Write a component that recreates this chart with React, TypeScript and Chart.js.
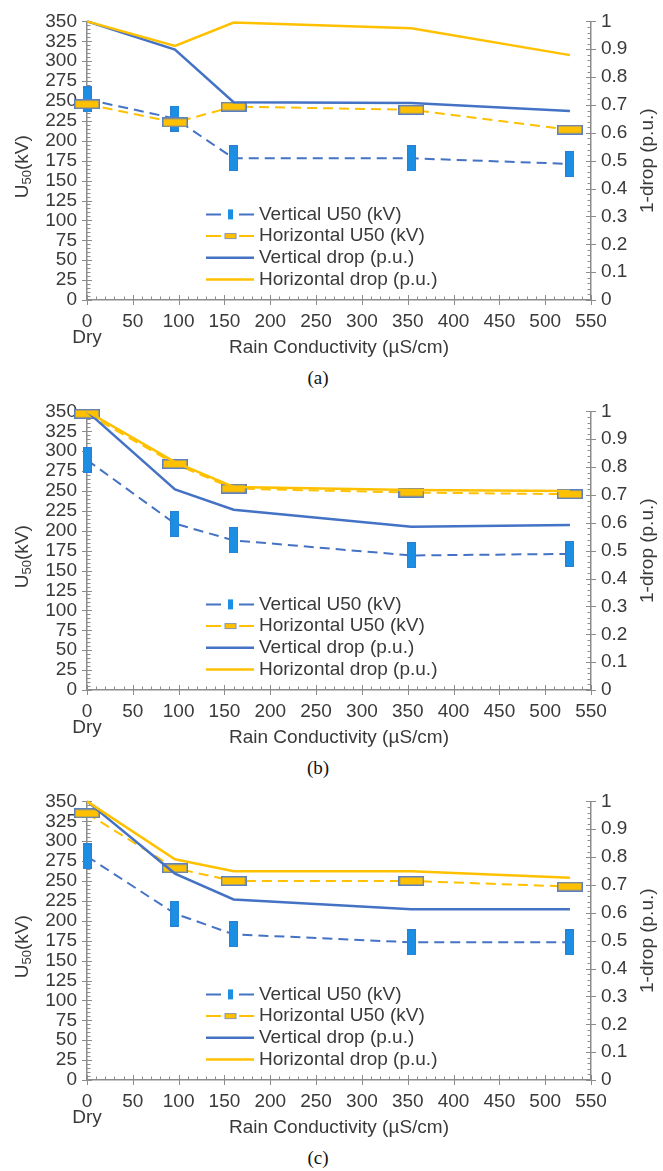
import React, { useEffect, useRef } from 'react';
import { Chart, registerables } from 'chart.js';

Chart.register(...registerables);

// ---- data ----
const conductivity = [0, 96, 160, 354, 527];
const seriesLabels = ['Vertical U50 (kV)', 'Horizontal U50 (kV)', 'Vertical drop (p.u.)', 'Horizontal drop (p.u.)'];
const captions = ['(a)', '(b)', '(c)'];
const xAxisTitle = 'Rain Conductivity (µS/cm)';
const rightAxisTitle = '1-drop (p.u.)';
const dryLabel = 'Dry';

const verticalU50A = [252, 228, 178, 178, 171];
const horizontalU50A = [246, 223, 243, 239, 214];
const verticalDropA = [1, 0.899, 0.71, 0.707, 0.678];
const horizontalDropA = [1, 0.912, 0.996, 0.975, 0.879];

const verticalU50B = [289, 209, 188, 169, 171];
const horizontalU50B = [347, 284, 253, 248, 246];
const verticalDropB = [1, 0.72, 0.647, 0.586, 0.592];
const horizontalDropB = [1, 0.818, 0.729, 0.718, 0.714];

const verticalU50C = [281, 209, 183, 173, 173];
const horizontalU50C = [335, 266, 250, 250, 243];
const verticalDropC = [1, 0.741, 0.648, 0.613, 0.613];
const horizontalDropC = [1, 0.7925, 0.749, 0.749, 0.726];

const panels = [
  { v: verticalU50A, h: horizontalU50A, dv: verticalDropA, dh: horizontalDropA },
  { v: verticalU50B, h: horizontalU50B, dv: verticalDropB, dh: horizontalDropB },
  { v: verticalU50C, h: horizontalU50C, dv: verticalDropC, dh: horizontalDropC },
];

// ---- styles ----
const FAMILY = "'Liberation Sans', Arial, sans-serif";
const TEXT = '#3a3a3a';
const AXIS = '#8c8c8c';
const BLUE = '#4472c4';
const GOLD = '#ffc000';
const MARK_BLUE = '#1a8fe3';
const MARK_EDGE = '#5b7fbf';

function makeRect(w: number, h: number, fill: string, stroke: string, lw: number) {
  const c = document.createElement('canvas');
  c.width = w;
  c.height = h;
  const g = c.getContext('2d')!;
  g.fillStyle = fill;
  g.fillRect(0, 0, w, h);
  if (lw > 0) {
    g.strokeStyle = stroke;
    g.lineWidth = lw;
    g.strokeRect(lw / 2, lw / 2, w - lw, h - lw);
  }
  return c;
}

const decorPlugin = {
  id: 'decor',
  beforeDatasetsDraw(chart: any) {
    const { ctx, chartArea: a, scales } = chart;
    ctx.save();
    ctx.strokeStyle = AXIS;
    ctx.lineWidth = 1;
    ctx.beginPath();
    for (let i = 0; i <= 70; i++) {
      const y = Math.round(scales.y.getPixelForValue(i * 5)) + 0.5;
      if (i % 5 === 0) { ctx.moveTo(a.left - 5, y); ctx.lineTo(a.left + 5, y); }
      else { ctx.moveTo(a.left, y); ctx.lineTo(a.left + 3.5, y); }
    }
    for (let i = 0; i <= 50; i++) {
      const y = Math.round(scales.y2.getPixelForValue(i * 0.02)) + 0.5;
      if (i % 5 === 0) { ctx.moveTo(a.right - 5, y); ctx.lineTo(a.right + 5, y); }
      else { ctx.moveTo(a.right - 3.5, y); ctx.lineTo(a.right, y); }
    }
    for (let i = 0; i <= 55; i++) {
      const x = Math.round(scales.x.getPixelForValue(i * 10)) + 0.5;
      if (i % 5 === 0) { ctx.moveTo(x, a.bottom - 5); ctx.lineTo(x, a.bottom + 5); }
      else { ctx.moveTo(x, a.bottom - 3.5); ctx.lineTo(x, a.bottom); }
    }
    ctx.stroke();

    // left title with subscript
    const big = `19px ${FAMILY}`;
    const small = `13px ${FAMILY}`;
    ctx.fillStyle = TEXT;
    ctx.textBaseline = 'middle';
    ctx.textAlign = 'left';
    ctx.save();
    ctx.translate(23, (a.top + a.bottom) / 2 + 6);
    ctx.rotate(-Math.PI / 2);
    ctx.font = big;
    const wU = ctx.measureText('U').width;
    const wK = ctx.measureText('(kV)').width;
    ctx.font = small;
    const wS = ctx.measureText('50').width;
    let x = -(wU + wS + wK) / 2;
    ctx.font = big; ctx.fillText('U', x, 0); x += wU;
    ctx.font = small; ctx.fillText('50', x, 4); x += wS;
    ctx.font = big; ctx.fillText('(kV)', x, 0);
    ctx.restore();

    // right title
    ctx.save();
    ctx.translate(648, (a.top + a.bottom) / 2);
    ctx.rotate(-Math.PI / 2);
    ctx.font = big;
    ctx.textAlign = 'center';
    ctx.fillText(rightAxisTitle, 0, 0);
    ctx.restore();
    ctx.restore();
  },
  afterDatasetsDraw(chart: any) {
    const { ctx, chartArea: a } = chart;
    const sx = a.left + 119;
    chart.data.datasets.forEach((ds: any, i: number) => {
      const y = a.top + 193 + i * 21.7;
      ctx.save();
      ctx.strokeStyle = ds.borderColor;
      ctx.lineWidth = ds.borderWidth;
      ctx.beginPath();
      if (i < 2) {
        ctx.moveTo(sx, y); ctx.lineTo(sx + 15, y);
        ctx.moveTo(sx + 33, y); ctx.lineTo(sx + 48, y);
      } else {
        ctx.moveTo(sx, y); ctx.lineTo(sx + 48, y);
      }
      ctx.stroke();
      if (i === 0) {
        ctx.fillStyle = MARK_BLUE;
        ctx.fillRect(sx + 22, y - 5, 5, 10);
      } else if (i === 1) {
        ctx.fillStyle = GOLD;
        ctx.fillRect(sx + 19, y - 2.5, 11, 5);
        ctx.strokeStyle = '#8a95a8';
        ctx.lineWidth = 1;
        ctx.strokeRect(sx + 19, y - 2.5, 11, 5);
      }
      ctx.fillStyle = TEXT;
      ctx.font = `19px ${FAMILY}`;
      ctx.textBaseline = 'middle';
      ctx.textAlign = 'left';
      ctx.fillText(ds.label, sx + 53, y);
      ctx.restore();
    });
  },
};

function Panel({ data, caption }: { data: any; caption: string }) {
  const ref = useRef<HTMLCanvasElement>(null);
  useEffect(() => {
    const canvas = ref.current!;
    const blueMarker = makeRect(9, 26, MARK_BLUE, '#2c80d4', 1);
    const goldMarker = makeRect(26, 10, GOLD, MARK_EDGE, 1.5);
    const pts = (arr: number[]) => conductivity.map((x, i) => ({ x, y: arr[i] }));
    const tickFont = { family: FAMILY, size: 19 };
    const chart = new Chart(canvas, {
      type: 'line',
      data: {
        datasets: [
          { label: seriesLabels[0], data: pts(data.v), yAxisID: 'y', borderColor: BLUE, borderWidth: 2, borderDash: [10, 6], pointStyle: blueMarker as any, pointRadius: 5, clip: false as any, order: 4, tension: 0, fill: false },
          { label: seriesLabels[1], data: pts(data.h), yAxisID: 'y', borderColor: GOLD, borderWidth: 2, borderDash: [10, 6], pointStyle: goldMarker as any, pointRadius: 5, clip: false as any, order: 3, tension: 0, fill: false },
          { label: seriesLabels[2], data: pts(data.dv), yAxisID: 'y2', borderColor: BLUE, borderWidth: 2.5, pointRadius: 0, clip: false as any, order: 2, tension: 0, fill: false },
          { label: seriesLabels[3], data: pts(data.dh), yAxisID: 'y2', borderColor: GOLD, borderWidth: 2.5, pointRadius: 0, clip: false as any, order: 1, tension: 0, fill: false },
        ],
      },
      options: {
        responsive: false,
        animation: false,
        events: [],
        layout: { padding: { top: 17, left: 0, right: 0, bottom: 0 } },
        plugins: { legend: { display: false }, tooltip: { enabled: false } },
        scales: {
          x: {
            type: 'linear', min: 0, max: 550,
            afterFit: (s: any) => { s.height = 59; },
            ticks: {
              stepSize: 50, autoSkip: false, maxRotation: 0, minRotation: 0, padding: 13, color: TEXT,
              font: { family: FAMILY, size: 19, lineHeight: 0.875 },
              callback: (v: any) => (v === 0 ? ['0', dryLabel] : String(v)),
            },
            grid: { display: false, drawTicks: false, tickLength: 0 },
            border: { color: AXIS, width: 1.5 },
            title: { display: true, text: xAxisTitle, color: TEXT, font: { family: FAMILY, size: 19 }, padding: 0 },
          },
          y: {
            type: 'linear', position: 'left', min: 0, max: 350,
            afterFit: (s: any) => { s.width = 87; },
            ticks: { stepSize: 25, autoSkip: false, padding: 10, color: TEXT, font: tickFont },
            grid: { display: false, drawTicks: false, tickLength: 0 },
            border: { color: AXIS, width: 1.5 },
          },
          y2: {
            type: 'linear', position: 'right', min: 0, max: 1,
            afterFit: (s: any) => { s.width = 72; },
            ticks: { stepSize: 0.1, autoSkip: false, padding: 10, color: TEXT, font: tickFont, callback: (v: any) => String(Math.round(v * 10) / 10) },
            grid: { display: false, drawTicks: false, tickLength: 0 },
            border: { color: AXIS, width: 1.5 },
          },
        },
      } as any,
      plugins: [decorPlugin],
    });
    return () => chart.destroy();
  }, [data]);
  return (
    <div style={{ width: 663, height: 390 }}>
      <canvas ref={ref} width={663} height={359} style={{ display: 'block', width: 663, height: 359 }} />
      <div
        style={{
          width: 636, height: 31, boxSizing: 'border-box', paddingTop: 9, textAlign: 'center',
          fontFamily: "'Liberation Serif', 'Times New Roman', serif", fontSize: 19, lineHeight: '19px', color: '#111',
        }}
      >
        {caption}
      </div>
    </div>
  );
}

export default function App() {
  return (
    <div style={{ position: 'absolute', left: 0, top: 0, width: 663, background: '#fff' }}>
      {panels.map((p, i) => (
        <Panel key={i} data={p} caption={captions[i]} />
      ))}
    </div>
  );
}
